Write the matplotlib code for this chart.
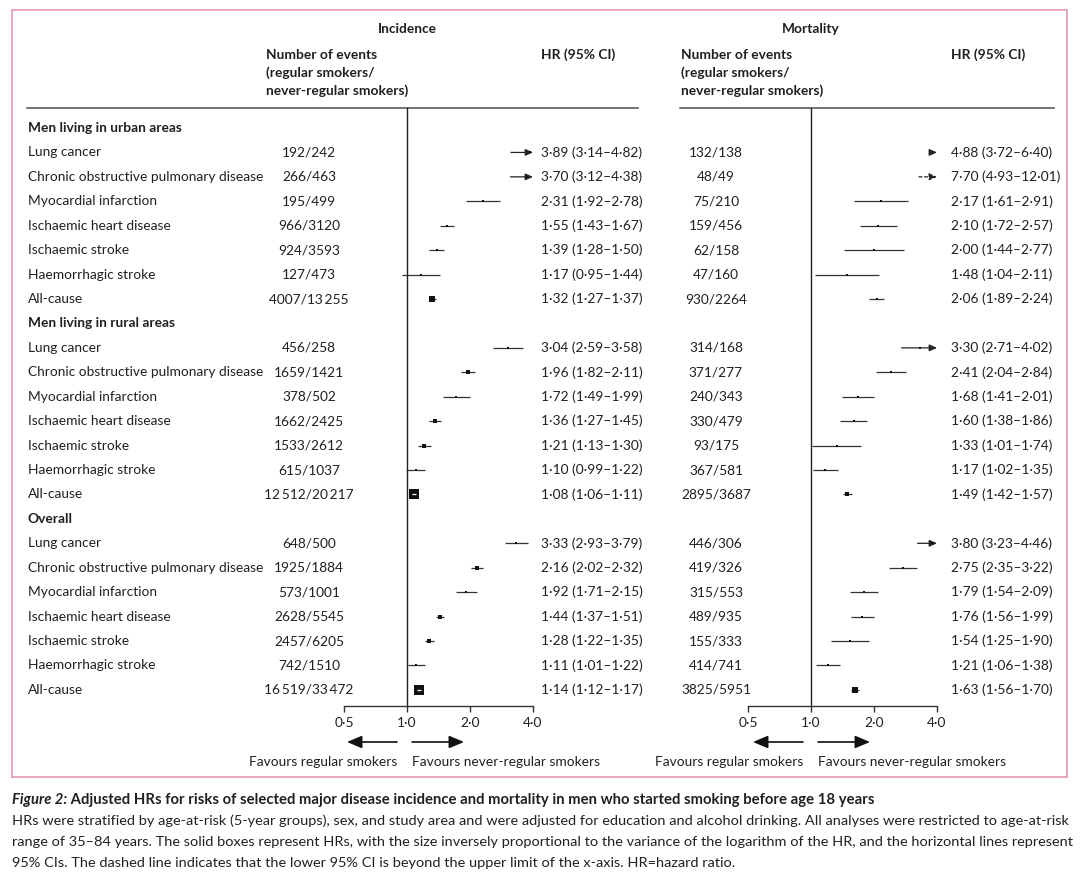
import matplotlib.pyplot as plt
import numpy as np
from matplotlib.ticker import NullLocator

plt.rcParams['font.family'] = ['Lato', 'DejaVu Sans']

# ---- data ----
groups = ["Men living in urban areas", "Men living in rural areas", "Overall"]
diseases = ["Lung cancer", "Chronic obstructive pulmonary disease", "Myocardial infarction",
            "Ischaemic heart disease", "Ischaemic stroke", "Haemorrhagic stroke", "All-cause"]

inc_events = ["192/242", "266/463", "195/499", "966/3120", "924/3593", "127/473", "4007/13\u2009255",
              "456/258", "1659/1421", "378/502", "1662/2425", "1533/2612", "615/1037", "12\u2009512/20\u2009217",
              "648/500", "1925/1884", "573/1001", "2628/5545", "2457/6205", "742/1510", "16\u2009519/33\u2009472"]
inc_hr = [3.89, 3.70, 2.31, 1.55, 1.39, 1.17, 1.32,
          3.04, 1.96, 1.72, 1.36, 1.21, 1.10, 1.08,
          3.33, 2.16, 1.92, 1.44, 1.28, 1.11, 1.14]
inc_lo = [3.14, 3.12, 1.92, 1.43, 1.28, 0.95, 1.27,
          2.59, 1.82, 1.49, 1.27, 1.13, 0.99, 1.06,
          2.93, 2.02, 1.71, 1.37, 1.22, 1.01, 1.12]
inc_hi = [4.82, 4.38, 2.78, 1.67, 1.50, 1.44, 1.37,
          3.58, 2.11, 1.99, 1.45, 1.30, 1.22, 1.11,
          3.79, 2.32, 2.15, 1.51, 1.35, 1.22, 1.17]

mort_events = ["132/138", "48/49", "75/210", "159/456", "62/158", "47/160", "930/2264",
               "314/168", "371/277", "240/343", "330/479", "93/175", "367/581", "2895/3687",
               "446/306", "419/326", "315/553", "489/935", "155/333", "414/741", "3825/5951"]
mort_hr = [4.88, 7.70, 2.17, 2.10, 2.00, 1.48, 2.06,
           3.30, 2.41, 1.68, 1.60, 1.33, 1.17, 1.49,
           3.80, 2.75, 1.79, 1.76, 1.54, 1.21, 1.63]
mort_lo = [3.72, 4.93, 1.61, 1.72, 1.44, 1.04, 1.89,
           2.71, 2.04, 1.41, 1.38, 1.01, 1.02, 1.42,
           3.23, 2.35, 1.54, 1.56, 1.25, 1.06, 1.56]
mort_hi = [6.40, 12.01, 2.91, 2.57, 2.77, 2.11, 2.24,
           4.02, 2.84, 2.01, 1.86, 1.74, 1.35, 1.57,
           4.46, 3.22, 2.09, 1.99, 1.90, 1.38, 1.70]

ticks = [0.5, 1.0, 2.0, 4.0]
tick_labels = ["0\u00b75", "1\u00b70", "2\u00b70", "4\u00b70"]

caption_title_a = "Figure 2:"
caption_title_b = (" Adjusted HRs for risks of selected major disease incidence and mortality "
                   "in men who started smoking before age 18 years")
caption_lines = [
    "HRs were stratified by age-at-risk (5-year groups), sex, and study area and were adjusted for "
    "education and alcohol drinking. All analyses were restricted to age-at-risk",
    "range of 35\u201384 years. The solid boxes represent HRs, with the size inversely proportional "
    "to the variance of the logarithm of the HR, and the horizontal lines represent",
    "95% CIs. The dashed line indicates that the lower 95% CI is beyond the upper limit of the "
    "x-axis. HR=hazard ratio.",
]

# ---- layout ----
W, H = 1080, 880
TXT = '#231f20'
FS = 9.9
ROW0, STEP = 128, 24.43
AXIS_Y, RULE_Y = 706, 108


def row_y(idx):
    return ROW0 + idx * STEP


def fmt_hr(h, l, u):
    return f"{h:.2f} ({l:.2f}\u2013{u:.2f})".replace('.', '\u00b7')


fig = plt.figure(figsize=(W / 100, H / 100), dpi=100)
fig.patch.set_facecolor('white')
bg = fig.add_axes([0, 0, 1, 1])
bg.set_xlim(0, W)
bg.set_ylim(H, 0)
bg.axis('off')

# pink frame
bg.add_patch(plt.Rectangle((12, 10), 1055, 767, fill=False, ec='#e597a8', lw=1.2))

# row labels
for g, grp in enumerate(groups):
    bg.text(28, row_y(g * 8), grp, fontsize=FS, fontweight='bold', color=TXT, va='center')
    for i, d in enumerate(diseases):
        bg.text(28, row_y(g * 8 + 1 + i), d, fontsize=FS, color=TXT, va='center')


def panel(title, x1_px, ev_x, hr_x, num_x, rule, events, hr, lo, hi, fav):
    # header
    bg.text(x1_px, 29, title, fontsize=FS, fontweight='bold', color=TXT, ha='center', va='center')
    for k, line in enumerate(["Number of events", "(regular smokers/", "never-regular smokers)"]):
        bg.text(num_x, 55 + k * 18, line, fontsize=FS, fontweight='bold', color=TXT, va='center')
    bg.text(hr_x, 55, "HR (95% CI)", fontsize=FS, fontweight='bold', color=TXT, va='center')
    bg.plot(rule, [RULE_Y, RULE_Y], color='#4d4d4d', lw=1.1)

    # forest axes: 63 px per doubling, 1.0 at x1_px
    left = x1_px - 63
    ax = fig.add_axes([left / W, 0, 189 / W, 1])
    ax.patch.set_visible(False)
    ax.set_xscale('log', base=2)
    ax.set_xlim(0.5, 4.0)
    ax.set_ylim(H, 0)
    for s in ['top', 'left', 'right']:
        ax.spines[s].set_visible(False)
    ax.spines['bottom'].set_position(('data', AXIS_Y))
    ax.spines['bottom'].set_bounds(0.5, 4.0)
    ax.spines['bottom'].set_color('#333333')
    ax.spines['bottom'].set_linewidth(1.0)
    ax.set_yticks([])
    ax.set_xticks(ticks)
    ax.set_xticklabels(tick_labels)
    ax.xaxis.set_minor_locator(NullLocator())
    ax.tick_params(axis='x', direction='out', length=4, width=1.0, color='#333333',
                   labelsize=FS, labelcolor=TXT, pad=4)
    ax.plot([1, 1], [RULE_Y, AXIS_Y], color='#222222', lw=1.0, clip_on=False)

    xmax = 4.0
    for j in range(len(hr)):
        g, i = divmod(j, 7)
        y = row_y(g * 8 + 1 + i)
        l, u, h = lo[j], hi[j], hr[j]
        if l > xmax:
            ax.annotate('', xy=(xmax, y), xytext=(-13, 0), textcoords='offset points',
                        arrowprops=dict(arrowstyle='-|>,head_length=0.45,head_width=0.2',
                                        color='#222222', lw=0.9, ls=(0, (2.5, 2)),
                                        shrinkA=0, shrinkB=0), annotation_clip=False)
        elif u > xmax:
            ax.annotate('', xy=(xmax, y), xytext=(l, y),
                        arrowprops=dict(arrowstyle='-|>,head_length=0.45,head_width=0.2',
                                        color='#222222', lw=0.9, shrinkA=0, shrinkB=0),
                        annotation_clip=False)
        else:
            ax.plot([l, u], [y, y], color='#333333', lw=0.9, solid_capstyle='butt')
        if h <= xmax:
            se = (np.log(u) - np.log(l)) / (2 * 1.96)
            side_px = max(0.118 * np.sqrt(1 / se ** 2), 2.0)
            ax.scatter([h], [y], marker='s', s=(side_px * 0.72) ** 2, color='#111111',
                       linewidths=0, zorder=3)
            ci_px = 63 * np.log2(u / l)
            if side_px > ci_px + 2:
                ax.plot([l, u], [y, y], color='white', lw=0.9, zorder=4,
                        solid_capstyle='butt')
        bg.text(ev_x, y, events[j], fontsize=FS, color=TXT, ha='center', va='center')
        bg.text(hr_x, y, fmt_hr(h, l, u), fontsize=FS, color=TXT, va='center')

    # favours arrows
    ay = 742
    hp = dict(arrowstyle='-|>,head_length=0.9,head_width=0.38', color='#111111', lw=1.2,
              shrinkA=0, shrinkB=0)
    bg.annotate('', xy=(fav[0] - 50, ay), xytext=(fav[0], ay), arrowprops=hp)
    bg.annotate('', xy=(fav[1] + 52, ay), xytext=(fav[1], ay), arrowprops=hp)
    bg.text(fav[0], 762, "Favours regular smokers", fontsize=FS, color=TXT, ha='right', va='center')
    bg.text(fav[1], 762, "Favours never-regular smokers", fontsize=FS, color=TXT, va='center')


panel("Incidence", 407, 309, 541, 266, [27, 638], inc_events, inc_hr, inc_lo, inc_hi, (397, 412))
panel("Mortality", 811, 716, 951, 681, [680, 1054], mort_events, mort_hr, mort_lo, mort_hi, (803, 818))

# caption (condensed look: fit font size to the reference line widths)
CFS = 10.0
renderer = fig.canvas.get_renderer()
t1 = bg.text(12, 800, caption_title_a, fontsize=CFS, fontweight='bold',
             fontstyle='italic', color=TXT, va='center')
t2 = bg.text(12, 800, caption_title_b, fontsize=CFS, fontweight='bold', color=TXT, va='center')
wa = t1.get_window_extent(renderer=renderer).width
wb = t2.get_window_extent(renderer=renderer).width
tfs = CFS * 866 / (wa + wb)
t1.set_fontsize(tfs)
t2.set_fontsize(tfs)
t2.set_x(12 + t1.get_window_extent(renderer=renderer).width)

body = [bg.text(12, 821 + k * 21, line, fontsize=CFS, color=TXT, va='center')
        for k, line in enumerate(caption_lines)]
bfs = CFS * 1053 / body[0].get_window_extent(renderer=renderer).width
for t in body:
    t.set_fontsize(bfs)

fig.savefig('out.png', dpi=100, facecolor='white')
